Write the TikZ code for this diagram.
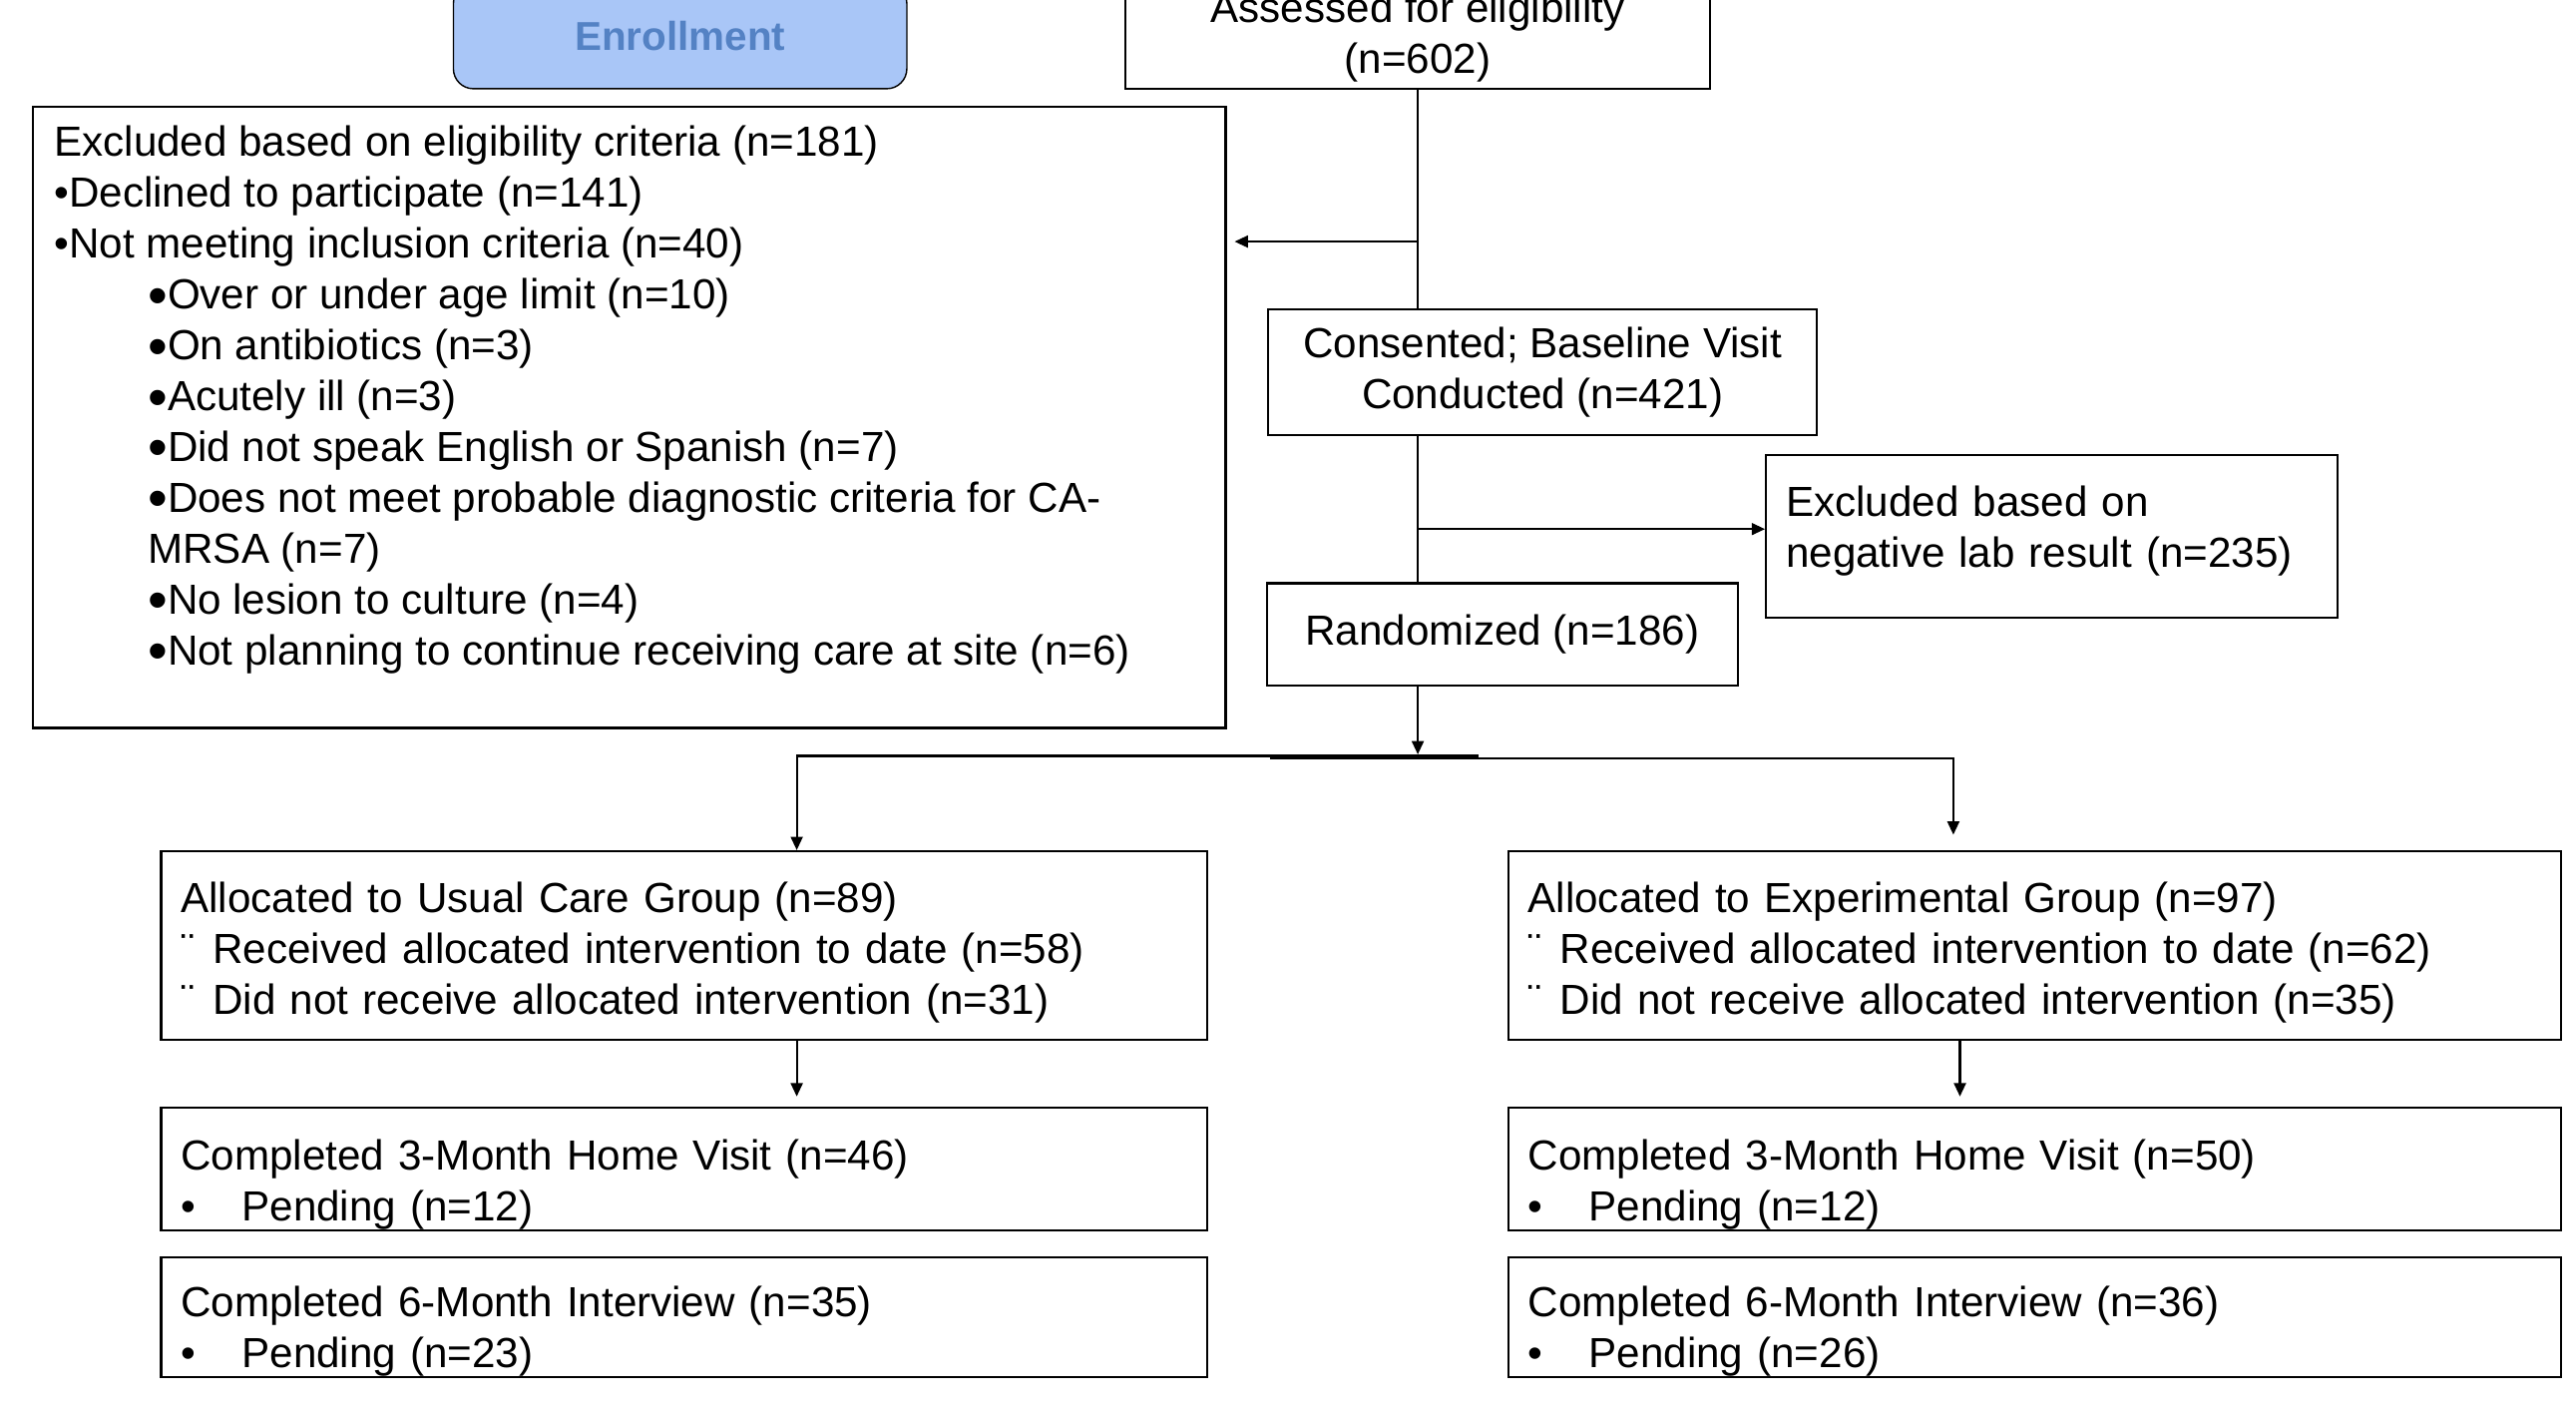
\documentclass[tikz,border=0pt]{standalone}
\usepackage{fontspec}
\setmainfont{Liberation Sans}
\usetikzlibrary{arrows.meta, positioning}
\definecolor{enrollblue}{RGB}{169, 198, 247}
\definecolor{enrolltext}{RGB}{84, 130, 196}
\newcommand\subbullet{\raisebox{-1.6pt}{\fontsize{16}{14.5}\selectfont•}}
\newcommand\wingbullet{¨\hspace{0.18cm}}
\newcommand\pendbullet{\makebox[0.61cm][l]{•}}

\begin{document}
\begin{tikzpicture}[
        box/.style={draw, line width=0.6pt, font=\fontsize{12}{14.5}\selectfont,
                    inner xsep=0.2cm, inner ysep=0.05cm},
        listbox/.style={box, align=left},
        arrow/.style={-{Triangle[length=3.8pt, width=3.4pt]}, line width=0.6pt},
        line/.style={line width=0.6pt}
      ]
        \useasboundingbox (0,0) rectangle (25.82,-14.21);
        % screening
        \node[draw, rounded corners=0.2cm, fill=enrollblue, text=enrolltext,
              minimum width=4.545cm, minimum height=1.054cm,
              font=\fontsize{11.5}{13}\selectfont\bfseries] (enroll) at (6.817,-0.362) {Enrollment};
        \node[box, align=center, minimum width=5.862cm, minimum height=1.037cm]
              (assess) at (14.211,-0.370) {Assessed for eligibility\\(n=602)};
        \node[box, inner xsep=0.214cm, inner ysep=0.19cm] (excl) at (6.307,-4.183)
              {\parbox[c][5.845cm][t]{11.527cm}{%
                Excluded based on eligibility criteria (n=181)\\
                •Declined to participate (n=141)\\
                •Not meeting inclusion criteria (n=40)\\
                \hspace*{0.94cm}\subbullet Over or under age limit (n=10)\\
                \hspace*{0.94cm}\subbullet On antibiotics (n=3)\\
                \hspace*{0.94cm}\subbullet Acutely ill (n=3)\\
                \hspace*{0.94cm}\subbullet Did not speak English or Spanish (n=7)\\
                \hspace*{0.94cm}\subbullet Does not meet probable diagnostic criteria for CA-\\
                \hspace*{0.94cm}MRSA (n=7)\\
                \hspace*{0.94cm}\subbullet No lesion to culture (n=4)\\
                \hspace*{0.94cm}\subbullet Not planning to continue receiving care at site (n=6)}};
        \node[box, align=center, minimum width=5.5cm, minimum height=1.268cm]
              (consent) at (15.462,-3.730) {Consented; Baseline Visit\\Conducted (n=421)};
        \node[listbox, text width=5.331cm, minimum height=1.63cm, text depth=0.70cm]
              (lab) at (20.567,-5.377) {Excluded based on\\negative lab result (n=235)};
        \node[box, minimum width=4.726cm, minimum height=1.021cm]
              (rand) at (15.059,-6.356) {Randomized (n=186)};
        % allocation
        \node[listbox, text width=10.089cm, minimum height=1.894cm, text height=0.44cm]
              (usual) at (6.859,-9.477)
              {Allocated to Usual Care Group (n=89)\\
               \wingbullet Received allocated intervention to date (n=58)\\
               \wingbullet Did not receive allocated intervention (n=31)};
        \node[listbox, text width=10.155cm, minimum height=1.894cm, text height=0.44cm]
              (exp) at (20.394,-9.477)
              {Allocated to Experimental Group (n=97)\\
               \wingbullet Received allocated intervention to date (n=62)\\
               \wingbullet Did not receive allocated intervention (n=35)};
        % follow-up
        \node[listbox, text width=10.089cm, minimum height=1.235cm, text height=0.61cm, inner ysep=0pt]
              (usual3) at (6.859,-11.716)
              {Completed 3-Month Home Visit (n=46)\\\pendbullet Pending (n=12)};
        \node[listbox, text width=10.155cm, minimum height=1.235cm, text height=0.61cm, inner ysep=0pt]
              (exp3) at (20.394,-11.716)
              {Completed 3-Month Home Visit (n=50)\\\pendbullet Pending (n=12)};
        \node[listbox, text width=10.089cm, minimum height=1.202cm, text height=0.59cm, inner ysep=0pt]
              (usual6) at (6.859,-13.198)
              {Completed 6-Month Interview (n=35)\\\pendbullet Pending (n=23)};
        \node[listbox, text width=10.155cm, minimum height=1.202cm, text height=0.59cm, inner ysep=0pt]
              (exp6) at (20.394,-13.198)
              {Completed 6-Month Interview (n=36)\\\pendbullet Pending (n=26)};
        % connectors
        \coordinate (exclsplit) at (14.211,-2.421);
        \coordinate (labsplit) at (14.211,-5.302);
        \coordinate (randjoin) at (14.211,-7.560);
        \coordinate (leftjoin) at (14.820,-7.575);
        \coordinate (rightjoin) at (12.729,-7.600);
        \coordinate (usualdrop) at (7.986,-7.575);
        \coordinate (expdrop) at (19.579,-8.365);
        \coordinate (expdown) at (19.645,-10.42);
        \draw[line] (assess.south) -- (assess.south |- consent.north);
        \draw[arrow, shorten >=0.08cm] (exclsplit) -- (exclsplit -| excl.east);
        \draw[line] (consent.south -| assess.south) -- (rand.north -| assess.south);
        \draw[arrow] (labsplit) -- (labsplit -| lab.west);
        \draw[arrow] (rand.south -| assess.south) -- (randjoin);
        \draw[arrow] (leftjoin) -| (usual.north -| usualdrop);
        \draw[arrow] (rightjoin) -| (expdrop);
        \draw[arrow, shorten >=0.1cm] (usual.south -| usualdrop) -- (usual3.north -| usualdrop);
        \draw[arrow, shorten >=0.1cm] (exp.south -| expdown) -- (exp3.north -| expdown);
      \end{tikzpicture}
\end{document}
